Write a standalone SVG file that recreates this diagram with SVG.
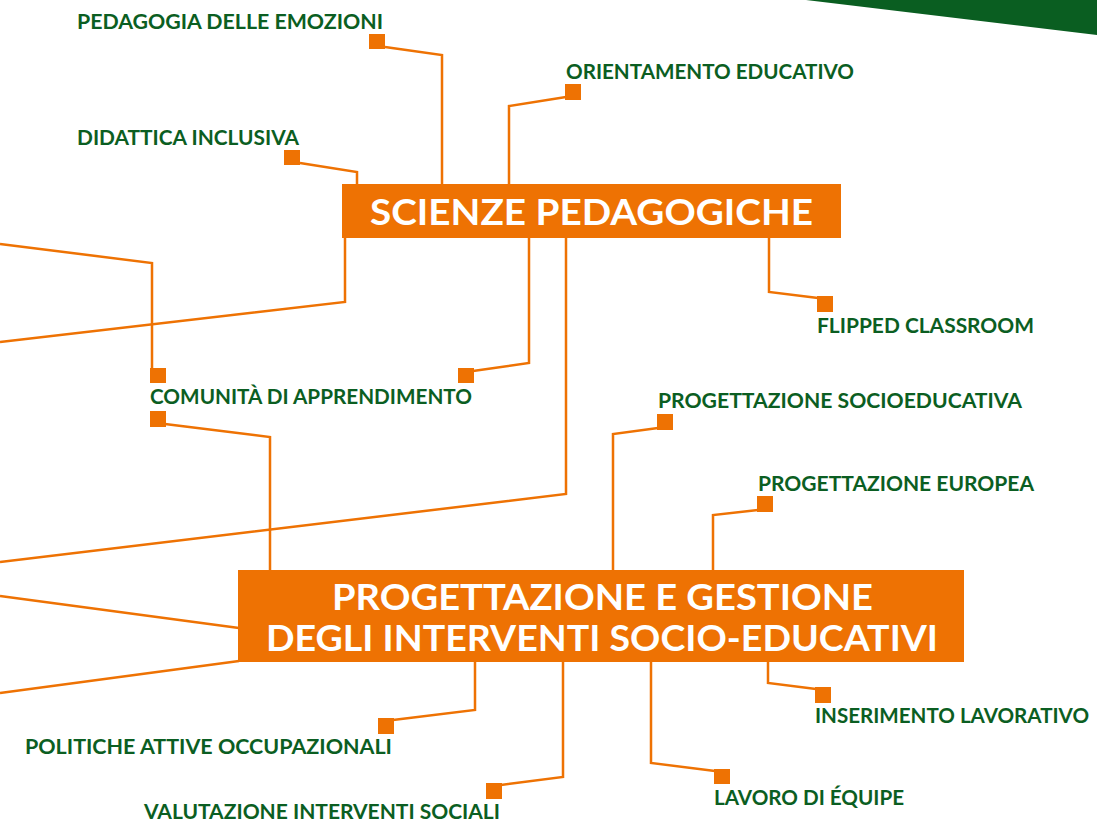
<svg xmlns="http://www.w3.org/2000/svg" width="1097" height="830" viewBox="0 0 1097 830">
<style>
.bg{fill:#ffffff}
.tri{fill:#0a5e21}
.conn{fill:none;stroke:#ee7203;stroke-width:2.5;stroke-linejoin:miter}
.sq{fill:#ee7203}
.box{fill:#ee7203}
.lbl{font-family:Lato,"Noto Sans","Liberation Sans",sans-serif;font-weight:700;font-size:20px;fill:#0b5e22}
.ttl{font-family:Lato,"Noto Sans","Liberation Sans",sans-serif;font-weight:700;font-size:37px;fill:#ffffff}
</style>
<rect class="bg" x="0" y="0" width="1097" height="830"/>
<polygon class="tri" points="806,0 1097,0 1097,35"/>
<g id="connectors">
<polyline class="conn" points="385,47 442,55 442,185"/>
<polyline class="conn" points="300,163 357,172 357,185"/>
<polyline class="conn" points="566,97 509,106 509,185"/>
<polyline class="conn" points="0,244 152,263 152,369"/>
<polyline class="conn" points="345,237 345,302 0,342"/>
<polyline class="conn" points="529,237 529,363 473,371"/>
<polyline class="conn" points="566,237 566,494 0,562"/>
<polyline class="conn" points="769,237 769,292 818,298"/>
<polyline class="conn" points="165,424 270,437 270,571"/>
<polyline class="conn" points="658,428 613,434 613,571"/>
<polyline class="conn" points="758,510 713,515 713,571"/>
<polyline class="conn" points="0,596 239,628"/>
<polyline class="conn" points="0,693 239,661"/>
<polyline class="conn" points="475,662 475,710 393,720"/>
<polyline class="conn" points="563,662 563,777 501,785"/>
<polyline class="conn" points="651,662 651,763 715,771"/>
<polyline class="conn" points="768,662 768,683 816,689"/>
</g>
<g id="node-scienze-pedagogiche">
<rect class="box" x="342" y="184" width="499" height="54"/>
<text class="ttl" x="370" y="225" textLength="443" lengthAdjust="spacingAndGlyphs">SCIENZE PEDAGOGICHE</text>
</g>
<g id="node-progettazione-gestione">
<rect class="box" x="238" y="570" width="726" height="92"/>
<text class="ttl" x="332" y="610" textLength="541" lengthAdjust="spacingAndGlyphs">PROGETTAZIONE E GESTIONE</text>
<text class="ttl" x="266" y="651" textLength="672" lengthAdjust="spacingAndGlyphs">DEGLI INTERVENTI SOCIO-EDUCATIVI</text>
</g>
<g id="node-pedagogia-emozioni">
<rect class="sq" x="369" y="34" width="16" height="15"/>
<text class="lbl" x="77" y="29" textLength="306" lengthAdjust="spacingAndGlyphs">PEDAGOGIA DELLE EMOZIONI</text>
</g>
<g id="node-didattica-inclusiva">
<rect class="sq" x="284" y="150" width="16" height="15"/>
<text class="lbl" x="77" y="145" textLength="222" lengthAdjust="spacingAndGlyphs">DIDATTICA INCLUSIVA</text>
</g>
<g id="node-orientamento-educativo">
<rect class="sq" x="565" y="84" width="16" height="16"/>
<text class="lbl" x="566" y="79" textLength="288" lengthAdjust="spacingAndGlyphs">ORIENTAMENTO EDUCATIVO</text>
</g>
<g id="node-flipped-classroom">
<rect class="sq" x="817" y="296" width="16" height="16"/>
<text class="lbl" x="817" y="333" textLength="217" lengthAdjust="spacingAndGlyphs">FLIPPED CLASSROOM</text>
</g>
<g id="node-comunita-apprendimento">
<rect class="sq" x="150" y="368" width="16" height="15"/>
<rect class="sq" x="458" y="368" width="16" height="15"/>
<rect class="sq" x="150" y="411" width="16" height="16"/>
<text class="lbl" x="150" y="404" textLength="322" lengthAdjust="spacingAndGlyphs">COMUNITÀ DI APPRENDIMENTO</text>
</g>
<g id="node-progettazione-socioeducativa">
<rect class="sq" x="657" y="414" width="16" height="16"/>
<text class="lbl" x="658" y="408" textLength="364" lengthAdjust="spacingAndGlyphs">PROGETTAZIONE SOCIOEDUCATIVA</text>
</g>
<g id="node-progettazione-europea">
<rect class="sq" x="757" y="496" width="16" height="16"/>
<text class="lbl" x="758" y="491" textLength="276" lengthAdjust="spacingAndGlyphs">PROGETTAZIONE EUROPEA</text>
</g>
<g id="node-inserimento-lavorativo">
<rect class="sq" x="815" y="687" width="16" height="16"/>
<text class="lbl" x="815" y="723" textLength="274" lengthAdjust="spacingAndGlyphs">INSERIMENTO LAVORATIVO</text>
</g>
<g id="node-politiche-attive">
<rect class="sq" x="378" y="718" width="16" height="16"/>
<text class="lbl" x="25" y="754" textLength="367" lengthAdjust="spacingAndGlyphs">POLITICHE ATTIVE OCCUPAZIONALI</text>
</g>
<g id="node-lavoro-equipe">
<rect class="sq" x="714" y="769" width="16" height="15"/>
<text class="lbl" x="714" y="805" textLength="190" lengthAdjust="spacingAndGlyphs">LAVORO DI ÉQUIPE</text>
</g>
<g id="node-valutazione-interventi">
<rect class="sq" x="486" y="783" width="16" height="16"/>
<text class="lbl" x="144" y="819" textLength="356" lengthAdjust="spacingAndGlyphs">VALUTAZIONE INTERVENTI SOCIALI</text>
</g>
</svg>
